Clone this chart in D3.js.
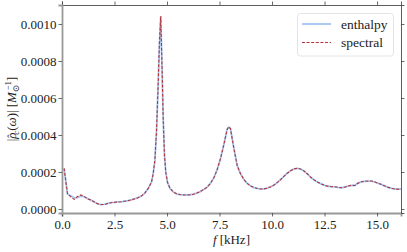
<!DOCTYPE html>
<html>
<head>
<meta charset="utf-8">
<script src="https://cdn.jsdelivr.net/npm/d3@7"></script>
<style>
  body { margin: 0; background: #fff; }
  text { font-family: "Liberation Serif", "DejaVu Serif", serif; }
</style>
</head>
<body>
<div class="dataContainer"></div>
<script>
// frequency grid in kHz
var freq = [0.1, 0.26, 0.42, 0.58, 0.74, 0.9, 1.06, 1.22, 1.38, 1.54, 1.7, 1.86, 2.02, 2.18, 2.34, 2.5,
    2.66, 2.82, 2.98, 3.14, 3.3, 3.46, 3.62, 3.78, 3.94, 4.1, 4.26, 4.34, 4.42, 4.5, 4.58, 4.64, 4.7,
    4.76, 4.82, 4.88, 4.94, 5.02, 5.14, 5.3, 5.46, 5.62, 5.78, 5.94, 6.1, 6.26, 6.42, 6.58, 6.74, 6.9,
    7.06, 7.22, 7.38, 7.54, 7.7, 7.86, 7.94, 8.02, 8.18, 8.34, 8.5, 8.66, 8.82, 8.98, 9.14, 9.3, 9.46,
    9.62, 9.78, 9.94, 10.1, 10.26, 10.42, 10.58, 10.74, 10.9, 11.06, 11.22, 11.38, 11.54, 11.7, 11.86,
    12.02, 12.18, 12.34, 12.5, 12.66, 12.82, 12.98, 13.14, 13.3, 13.46, 13.62, 13.78, 13.94, 14.1,
    14.26, 14.42, 14.58, 14.74, 14.9, 15.06, 15.22, 15.38, 15.54, 15.7, 15.86, 16.02, 16.18];

// |rho_c(omega)| in units of 1e-4 / M_sun
var spectral = [2.2, 0.85, 0.66, 0.52, 0.68, 0.76, 0.68, 0.55, 0.48, 0.38, 0.28, 0.24, 0.25, 0.3, 0.34, 0.36,
    0.38, 0.39, 0.42, 0.45, 0.49, 0.55, 0.61, 0.7, 0.86, 1.1, 1.45, 1.9, 2.6, 4.2, 6.8, 9.0, 10.43,
    7.8, 4.8, 2.9, 2.0, 1.45, 1.12, 0.92, 0.82, 0.78, 0.76, 0.76, 0.77, 0.8, 0.86, 0.94, 1.05, 1.17,
    1.38, 1.66, 2.1, 2.7, 3.45, 4.3, 4.45, 4.35, 3.3, 2.35, 1.9, 1.6, 1.38, 1.24, 1.16, 1.11, 1.08,
    1.09, 1.13, 1.2, 1.3, 1.44, 1.6, 1.78, 1.95, 2.08, 2.17, 2.21, 2.15, 2.04, 1.88, 1.7,
    1.56, 1.45, 1.36, 1.28, 1.23, 1.21, 1.2, 1.17, 1.15, 1.18, 1.24, 1.28, 1.27, 1.4,
    1.47, 1.5, 1.51, 1.51, 1.46, 1.39, 1.32, 1.24, 1.17, 1.12, 1.08, 1.07, 1.08];

var enthalpy = [2.2, 0.8, 0.72, 0.6, 0.62, 0.7, 0.66, 0.56, 0.48, 0.38, 0.28, 0.24, 0.25, 0.3, 0.34, 0.36,
    0.38, 0.39, 0.42, 0.45, 0.49, 0.55, 0.61, 0.7, 0.86, 1.1, 1.45, 1.9, 2.6, 4.2, 6.8, 9.0, 10.4,
    7.8, 4.8, 2.9, 2.0, 1.45, 1.12, 0.92, 0.82, 0.78, 0.76, 0.76, 0.77, 0.8, 0.86, 0.94, 1.05, 1.17,
    1.38, 1.66, 2.1, 2.7, 3.45, 4.3, 4.42, 4.35, 3.3, 2.35, 1.9, 1.6, 1.38, 1.24, 1.16, 1.11, 1.08,
    1.09, 1.13, 1.2, 1.3, 1.44, 1.6, 1.78, 1.95, 2.08, 2.17, 2.2, 2.15, 2.04, 1.88, 1.7,
    1.56, 1.45, 1.36, 1.28, 1.23, 1.21, 1.2, 1.17, 1.15, 1.18, 1.24, 1.28, 1.27, 1.4,
    1.47, 1.5, 1.51, 1.51, 1.46, 1.39, 1.32, 1.24, 1.17, 1.12, 1.08, 1.07, 1.08];

var xTicks = [0, 2.5, 5, 7.5, 10, 12.5, 15];
var yTicks = [0, 0.0002, 0.0004, 0.0006, 0.0008, 0.0010];

var W = 407, H = 252;
var mLeft = 62, mRight = 401, mTop = 5, mBottom = 213;

var svg = d3.select(".dataContainer").append("svg")
    .attr("width", W)
    .attr("height", H);

var x = d3.scaleLinear().domain([0, 16.14]).range([mLeft, mRight]);
var y = d3.scaleLinear().domain([-0.0000216, 0.0011027]).range([mBottom, mTop]);

svg.append("clipPath").attr("id", "clip")
    .append("rect")
    .attr("x", mLeft).attr("y", mTop)
    .attr("width", mRight - mLeft).attr("height", mBottom - mTop);

function series(vals) {
    return freq.map(function (f, i) { return [f, vals[i] * 1e-4]; });
}

var line = d3.line()
    .x(function (d) { return x(d[0]); })
    .y(function (d) { return y(d[1]); });

var plot = svg.append("g").attr("clip-path", "url(#clip)");

plot.append("path")
    .attr("d", line(series(enthalpy)))
    .attr("fill", "none")
    .attr("stroke", "#a4c6f2")
    .attr("stroke-width", 1.8);

plot.append("path")
    .attr("d", line(series(spectral)))
    .attr("fill", "none")
    .attr("stroke", "#b3343a")
    .attr("stroke-width", 1.1)
    .attr("stroke-dasharray", "3,1.6");

// axes
var xb = svg.append("g").attr("transform", "translate(0," + mBottom + ")")
    .call(d3.axisBottom(x).tickValues(xTicks).tickFormat(d3.format(".1f")).tickSizeOuter(0).tickSize(3.5).tickPadding(3));
var xt = svg.append("g").attr("transform", "translate(0," + mTop + ")")
    .call(d3.axisTop(x).tickValues(xTicks).tickFormat("").tickSizeOuter(0).tickSize(3.5));
var yl = svg.append("g").attr("transform", "translate(" + mLeft + ",0)")
    .call(d3.axisLeft(y).tickValues(yTicks).tickFormat(d3.format(".4f")).tickSizeOuter(0).tickSize(3.5).tickPadding(2));
var yr = svg.append("g").attr("transform", "translate(" + mRight + ",0)")
    .call(d3.axisRight(y).tickValues(yTicks).tickFormat("").tickSizeOuter(0).tickSize(3.5));

[xb, xt, yl, yr].forEach(function (g) {
    g.selectAll(".tick line").attr("stroke", "#444").attr("stroke-width", 0.8);
    g.selectAll(".tick text").attr("font-size", 13).attr("fill", "#222")
        .style("font-family", "'Liberation Serif', serif");
});
xt.select(".domain").attr("stroke", "#333").attr("stroke-width", 0.8);
yr.select(".domain").attr("stroke", "#333").attr("stroke-width", 0.8);
xb.select(".domain").attr("stroke", "#999").attr("stroke-width", 1.8);
yl.select(".domain").attr("stroke", "#999").attr("stroke-width", 1.8);

// axis labels
var xl = svg.append("text")
    .attr("x", (mLeft + mRight) / 2)
    .attr("y", 244)
    .attr("text-anchor", "middle")
    .attr("font-size", 13)
    .attr("fill", "#222");
xl.append("tspan").attr("font-style", "italic").text("f");
xl.append("tspan").attr("dx", 3).text("[kHz]");

var ylab = svg.append("text")
    .attr("transform", "translate(16," + ((mTop + mBottom) / 2) + ") rotate(-90)")
    .attr("text-anchor", "middle")
    .attr("font-size", 13)
    .attr("fill", "#222");
ylab.append("tspan").text("|");
ylab.append("tspan").attr("font-style", "italic").text("ρ");
ylab.append("tspan").attr("dx", -5.5).attr("dy", -1).attr("font-size", 11).text("ˆ");
ylab.append("tspan").attr("font-style", "italic").attr("font-size", 9).attr("dx", -0.5).attr("dy", 4).text("c");
ylab.append("tspan").attr("dy", -3).text("(");
ylab.append("tspan").attr("font-style", "italic").text("ω");
ylab.append("tspan").text(")|");
ylab.append("tspan").attr("dx", 3).text("[");
ylab.append("tspan").attr("font-style", "italic").text("M");
ylab.append("tspan").attr("font-size", 9).attr("dy", 3).text("⊙");
ylab.append("tspan").attr("font-size", 9).attr("dy", -8).attr("dx", -6).text("−1");
ylab.append("tspan").attr("dy", 5).text("]");

// legend
var leg = svg.append("g");
leg.append("rect")
    .attr("x", 297.5).attr("y", 13.5)
    .attr("width", 96).attr("height", 42.5)
    .attr("rx", 3)
    .attr("fill", "#fff").attr("fill-opacity", 0.8)
    .attr("stroke", "#ddd").attr("stroke-width", 0.8);

var legItems = [
    { name: "enthalpy", stroke: "#a4c6f2", w: 1.8, dash: null },
    { name: "spectral", stroke: "#b3343a", w: 1.1, dash: "3,1.6" }
];
legItems.forEach(function (d, i) {
    var yy = 24 + i * 18.5;
    leg.append("line")
        .attr("x1", 302).attr("x2", 331)
        .attr("y1", yy).attr("y2", yy)
        .attr("stroke", d.stroke).attr("stroke-width", d.w)
        .attr("stroke-dasharray", d.dash);
    leg.append("text")
        .attr("x", 341).attr("y", yy + 4.5)
        .attr("font-size", 13.5)
        .attr("fill", "#222")
        .text(d.name);
});
</script>
</body>
</html>
